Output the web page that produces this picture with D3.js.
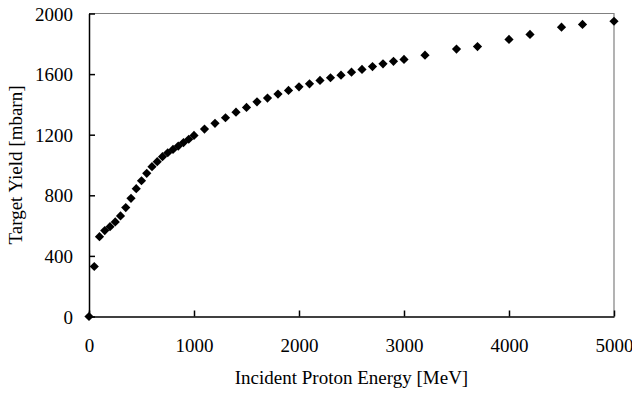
<!DOCTYPE html>
<html><head><meta charset="utf-8">
<script src="https://cdn.jsdelivr.net/npm/d3@7"></script>
<style>body{margin:0;background:#fff}svg{display:block}text{font-family:"Liberation Serif","Times New Roman",serif;fill:#000}</style>
</head><body>
<svg id="c" width="632" height="394"></svg>
<script>
const energy = [0,50,100,150,200,250,300,350,400,450,500,550,600,650,700,750,800,850,900,950,1000,
  1100,1200,1300,1400,1500,1600,1700,1800,1900,2000,2100,2200,2300,2400,2500,2600,2700,2800,2900,3000,
  3200,3500,3700,4000,4200,4500,4700,5000];
const yieldVals = [0,330,527,567,593,624,664,719,780,844,896,945,989,1022,1055,1081,1103,1125,1148,1170,1195,
  1237,1275,1312,1349,1380,1417,1442,1468,1492,1516,1536,1558,1576,1593,1613,1631,1650,1668,1684,1697,
  1725,1765,1782,1829,1862,1910,1928,1949];
const xTicks = [0,1000,2000,3000,4000,5000];
const yTicks = [0,400,800,1200,1600,2000];
const xTitle = "Incident Proton Energy [MeV]";
const yTitle = "Target Yield [mbarn]";

const svg = d3.select("#c");
const L=89, R=614, T=13.5, B=316.5;
const x = d3.scaleLinear().domain([0,5000]).range([L,R]);
const y = d3.scaleLinear().domain([0,2000]).range([B,T]);

// frame top/right gray
svg.append("path").attr("d",`M${L},${T}H${R}V${B}`).attr("fill","none").attr("stroke","#808080").attr("stroke-width",1.2);

const fs = 19;
const gx = svg.append("g").attr("transform",`translate(0,${B})`)
  .call(d3.axisBottom(x).tickValues(xTicks).tickSizeInner(-6).tickSizeOuter(0).tickPadding(14).tickFormat(d3.format("d")));
const gy = svg.append("g").attr("transform",`translate(${L},0)`)
  .call(d3.axisLeft(y).tickValues(yTicks).tickSizeInner(-6).tickSizeOuter(0).tickPadding(14).tickFormat(d3.format("d")));
[gx,gy].forEach(g=>{
  g.selectAll("path").attr("stroke","#000").attr("stroke-width",1.5);
  g.selectAll("line").attr("stroke","#000").attr("stroke-width",1.5);
  g.selectAll("text").attr("font-size",fs).attr("font-family","Liberation Serif");
});
gx.selectAll("text").attr("dy",null).attr("y",null).attr("transform",null)
  .attr("dominant-baseline","auto").each(function(){ d3.select(this).attr("y", 35.5); });
gy.selectAll("text").attr("dy","0.35em").attr("x",-16);

svg.append("text").attr("x",(L+R)/2).attr("y",384).attr("text-anchor","middle").attr("font-size",fs).text(xTitle);
svg.append("text").attr("transform",`translate(22,${(T+B)/2}) rotate(-90)`).attr("text-anchor","middle").attr("font-size",fs).text(yTitle);

const r = 4.6;
svg.append("g").selectAll("path").data(energy.map((e,i)=>[e,yieldVals[i]])).join("path")
  .attr("d",d=>{const cx=x(d[0]),cy=y(d[1]);return `M${cx},${cy-r}L${cx+r},${cy}L${cx},${cy+r}L${cx-r},${cy}Z`;})
  .attr("fill","#000");
</script>
</body></html>
